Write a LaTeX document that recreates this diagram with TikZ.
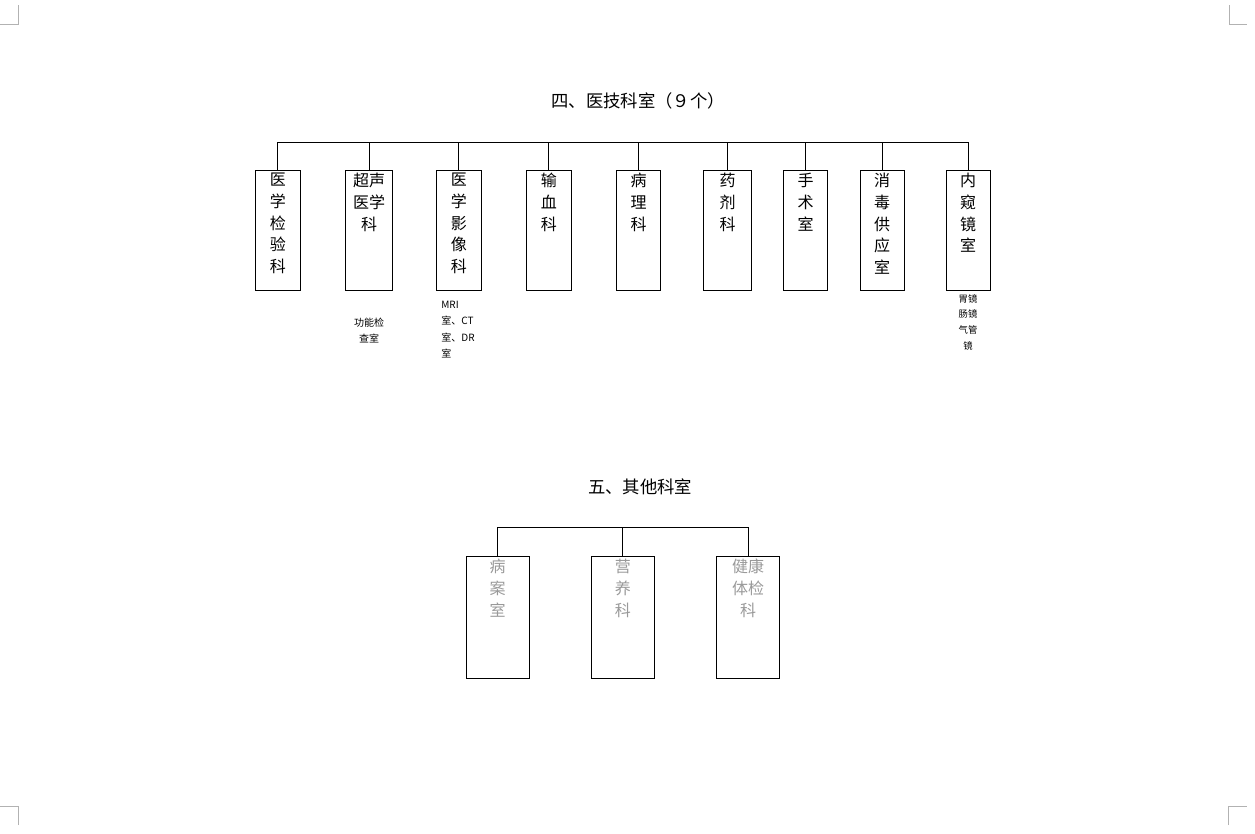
\documentclass[tikz,border=0pt]{standalone}
\usepackage{fontspec}
\setmainfont{Noto Sans CJK SC}
\usetikzlibrary{positioning}

\begin{document}
\begin{tikzpicture}[
    x=0.75pt,
    y=-0.75pt,
    line width=0.7pt,
    unit/.style={draw, anchor=north, minimum height=90.2pt, inner sep=0pt},
    unit text/.style={align=center, inner sep=2pt, font=\fontsize{12pt}{16.3pt}\selectfont},
    faint/.style={text=black!40},
    sub text/.style={inner sep=1pt, font=\fontsize{7.5pt}{12.4pt}\selectfont},
    title/.style={font=\fontsize{13pt}{15pt}\selectfont},
    crop/.style={draw=black!30, line width=0.75pt},
]
    \useasboundingbox (0,0) rectangle (1255,833);

    % page corners
    \draw[crop] (18,5) -- (18,24) -- (0,24);
    \draw[crop] (1229,5) -- (1229,24) -- (1247,24);
    \draw[crop] (18,825) -- (18,806) -- (0,806);
    \draw[crop] (1228,825) -- (1228,806) -- (1247,806);

    % four: medical technology
    \node[title] (t4) at (638,101) {四、医技科室（９个）};
    \coordinate (bus4) at (0,142.3);

    \node[unit, minimum width=33.75pt] (jy) at (277.8,170) {};
    \node[unit, minimum width=35.5pt]  (cs) at (369,170)   {};
    \node[unit, minimum width=33.75pt] (yx) at (458.8,170) {};
    \node[unit, minimum width=33.75pt] (sx) at (548.8,170) {};
    \node[unit, minimum width=33.3pt]  (bl) at (638.5,170) {};
    \node[unit, minimum width=36.1pt]  (yj) at (727.5,170) {};
    \node[unit, minimum width=33.3pt]  (ss) at (805.5,170) {};
    \node[unit, minimum width=33.2pt]  (xd) at (882.2,170) {};
    \node[unit, minimum width=33pt]    (nk) at (968,170)   {};

    \node[unit text, below=0pt of jy.north] (jy text) {医\\学\\检\\验\\科};
    \node[unit text, below=0pt of cs.north] (cs text) {超声\\医学\\科};
    \node[unit text, below=0pt of yx.north] (yx text) {医\\学\\影\\像\\科};
    \node[unit text, below=0pt of sx.north] (sx text) {输\\血\\科};
    \node[unit text, below=0pt of bl.north] (bl text) {病\\理\\科};
    \node[unit text, below=0pt of yj.north] (yj text) {药\\剂\\科};
    \node[unit text, below=0pt of ss.north] (ss text) {手\\术\\室};
    \node[unit text, below=0pt of xd.north] (xd text) {消\\毒\\供\\应\\室};
    \node[unit text, below=0pt of nk.north] (nk text) {内\\窥\\镜\\室};

    \node[sub text, align=center, below=18.5pt of cs] (cs sub) {功能检\\查室};
    \node[sub text, align=left, below right=6pt and 2.8pt of yx.south west] (yx sub) {MRI\\室、CT\\室、DR\\室};
    \node[sub text, align=center, below=1pt of nk, font=\fontsize{7pt}{11.8pt}\selectfont] (nk sub) {胃镜\\肠镜\\气管\\镜};

    \draw (jy.north) |- (nk.north |- bus4) -- (nk.north);
    \path
        (cs.north) edge (cs.north |- bus4)
        (yx.north) edge (yx.north |- bus4)
        (sx.north) edge (sx.north |- bus4)
        (bl.north) edge (bl.north |- bus4)
        (yj.north) edge (yj.north |- bus4)
        (ss.north) edge (ss.north |- bus4)
        (xd.north) edge (xd.north |- bus4)
    ;

    % five: other units
    \node[title] (t5) at (640,487) {五、其他科室};
    \coordinate (bus5) at (0,527.7);

    \node[unit, minimum width=47.25pt, minimum height=91.7pt] (ba) at (497.5,556) {};
    \node[unit, minimum width=47.25pt, minimum height=91.7pt] (yy) at (622.8,556) {};
    \node[unit, minimum width=47pt,    minimum height=91.7pt] (tj) at (748,556)   {};

    \node[unit text, faint, below=0pt of ba.north] (ba text) {病\\案\\室};
    \node[unit text, faint, below=0pt of yy.north] (yy text) {营\\养\\科};
    \node[unit text, faint, below=0pt of tj.north] (tj text) {健康\\体检\\科};

    \draw (ba.north) |- (tj.north |- bus5) -- (tj.north);
    \path
        (yy.north) edge (yy.north |- bus5)
    ;
\end{tikzpicture}
\end{document}
